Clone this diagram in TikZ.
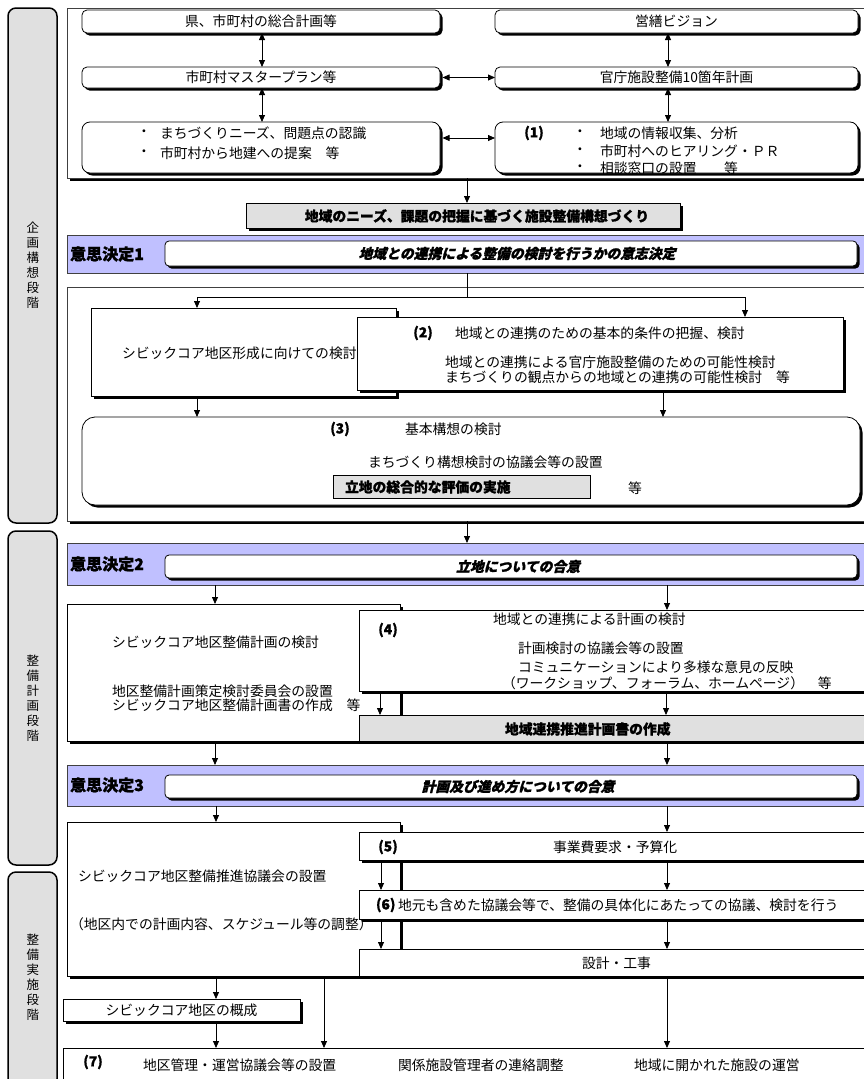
\documentclass[tikz,border=0pt]{standalone}
\usepackage{fontspec}
\setmainfont[BoldFeatures={FakeBold=1.2}]{Noto Sans CJK JP}
\newfontfamily\bslant[FakeSlant=0.25, BoldFeatures={FakeBold=1.5}]{Noto Sans CJK JP}
\usetikzlibrary{arrows.meta,shadows}
\definecolor{bandc}{RGB}{192,192,255}
\definecolor{lgray}{RGB}{224,224,224}
\begin{document}
\begin{tikzpicture}[x=1pt,y=-1pt,
  txt/.style={font=\fontsize{13.8}{16}\selectfont, inner sep=0pt, outer sep=0pt},
  btxt/.style={font=\fontsize{13.8}{16}\selectfont\bfseries, inner sep=0pt, outer sep=0pt},
  shd/.style={drop shadow={shadow xshift=2.5pt, shadow yshift=-2.5pt, opacity=1, fill=black}},
  sbox/.style={draw, line width=0.8pt, fill=white, inner sep=0pt, outer sep=0pt, anchor=north west, shd, font=\fontsize{13.8}{16}\selectfont},
  rbox/.style={sbox, rounded corners=5pt},
  gbox/.style={sbox, fill=lgray, font=\fontsize{13.8}{16}\selectfont\bfseries},
  frame/.style={draw=black!75, line width=0.8pt, fill=white, inner sep=0pt, outer sep=0pt, anchor=north west, shd},
  band/.style={draw=black!75, line width=0.8pt, fill=bandc, inner sep=0pt, outer sep=0pt, anchor=north west},
  inband/.style={rbox, rounded corners=4pt, font=\fontsize{13.8}{16}\selectfont\bslant\bfseries},
  phase/.style={draw, line width=1.5pt, fill=lgray, rounded corners=8pt, inner sep=0pt, outer sep=0pt, anchor=north west},
  vlab/.style={align=center, font=\fontsize{12.5}{15}\selectfont, inner sep=0pt},
  blab/.style={anchor=west, font=\fontsize{16}{18}\selectfont\bfseries, inner sep=0pt},
  arr/.style={-{Triangle[length=7pt,width=6pt]}, line width=0.8pt},
  darr/.style={{Triangle[length=7pt,width=6pt]}-{Triangle[length=7pt,width=6pt]}, line width=0.8pt}
]
\useasboundingbox (0,0) rectangle (864,1079);
\clip (0,0) rectangle (864,1079);
\foreach \v in {138,197,215,216,262,324,380,381,467,663,666,667,668,745} {\coordinate (c\v) at (\v,\v);}

% phase boxes
\node[phase, minimum width=49pt, minimum height=515pt] (P1) at (8,8) {};
\node[phase, minimum width=49pt, minimum height=334pt] (P2) at (8,531) {};
\node[phase, minimum width=49pt, minimum height=215pt] (P3) at (8,872) {};
\node[vlab] (P1l) at (33,265) {企\\画\\構\\想\\段\\階};
\node[vlab] (P2l) at (33,698) {整\\備\\計\\画\\段\\階};
\node[vlab] (P3l) at (33,977) {整\\備\\実\\施\\段\\階};

% section 1
\node[frame, minimum width=840pt, minimum height=170pt] (F1) at (67,8) {};
\node[rbox, minimum width=358pt, minimum height=23pt] (A1) at (82,10) {県、市町村の総合計画等};
\node[rbox, minimum width=363pt, minimum height=23pt] (B1) at (495,10) {営繕ビジョン};
\node[rbox, minimum width=358pt, minimum height=21pt] (A2) at (82,67) {市町村マスタープラン等};
\node[rbox, minimum width=363pt, minimum height=21pt] (B2) at (495,67) {官庁施設整備10箇年計画};
\node[rbox, rounded corners=8pt, minimum width=358pt, minimum height=51pt] (A3) at (82,122) {};
\node[rbox, rounded corners=8pt, minimum width=363pt, minimum height=51pt] (B3) at (495,122) {};
\node[txt] (a3b1) at (144,133) {・};
\node[txt, anchor=west] (a3t1) at (160,133) {まちづくりニーズ、問題点の認識};
\node[txt] (a3b2) at (144,153) {・};
\node[txt, anchor=west] (a3t2) at (160,153) {市町村から地建への提案　等};
\node[btxt] (b3n) at (534,133) {(1)};
\node[txt] (b3b1) at (580,133) {・};
\node[txt, anchor=west] (b3t1) at (600,133) {地域の情報収集、分析};
\node[txt] (b3b2) at (580,151) {・};
\node[txt, anchor=west] (b3t2) at (600,151) {市町村へのヒアリング・ＰＲ};
\node[txt] (b3b3) at (580,168) {・};
\node[txt, anchor=west] (b3t3) at (600,168) {相談窓口の設置　　等};
\draw[darr] (A1.south -| c262) -- (A2.north -| c262);
\draw[darr] (A2.south -| c262) -- (A3.north -| c262);
\draw[darr] (B1.south -| c668) -- (B2.north -| c668);
\draw[darr] (B2.south -| c668) -- (B3.north -| c668);
\draw[darr] ([xshift=2.5pt]A2.east) -- (B2.west);
\draw[darr] ([xshift=2.5pt]A3.east |- c138) -- (B3.west |- c138);

% needs box
\node[gbox, minimum width=434pt, minimum height=25pt] (Need) at (246,203) {};
\node[btxt] (Needt) at (477,216) {地域のニーズ、課題の把握に基づく施設整備構想づくり};
\draw[arr] (F1.south -| c467) -- (Need.north -| c467);

% band 1
\node[band, minimum width=840pt, minimum height=38pt] (Band1) at (67,235) {};
\node[blab] (Band1l) at (70,254) {意思決定1};
\node[inband, minimum width=692pt, minimum height=25pt] (I1) at (165,241) {\hspace*{12pt}地域との連携による整備の検討を行うかの意志決定};

% section 2
\node[frame, minimum width=840pt, minimum height=234pt] (F2) at (67,287) {};
\node[sbox, minimum width=305pt, minimum height=88pt] (L2) at (91,308) {};
\node[txt, anchor=west] (L2t) at (122,353) {シビックコア地区形成に向けての検討};
\node[sbox, minimum width=486pt, minimum height=73pt] (Q2) at (357,317) {};
\node[btxt] (Q2n) at (423,333) {(2)};
\node[txt, anchor=west] (Q2t1) at (455,333) {地域との連携のための基本的条件の把握、検討};
\node[txt, anchor=west] (Q2t2) at (445,362) {地域との連携による官庁施設整備のための可能性検討};
\node[txt, anchor=west] (Q2t3) at (445,377) {まちづくりの観点からの地域との連携の可能性検討　等};
\coordinate (s1) at (467,297);
\draw[line width=0.8pt] (Band1.south -| s1) -- (s1);
\draw[line width=0.8pt] (c197 |- s1) -- (c745 |- s1);
\draw[arr] (c197 |- s1) -- (L2.north -| c197);
\draw[arr] (c745 |- s1) -- (Q2.north -| c745);
\node[rbox, rounded corners=13pt, minimum width=778pt, minimum height=88pt] (Q3) at (82,417) {};
\node[btxt] (Q3n) at (340,429) {(3)};
\node[txt, anchor=west] (Q3t1) at (405,429) {基本構想の検討};
\node[txt, anchor=west] (Q3t2) at (368,462) {まちづくり構想検討の協議会等の設置};
\node[draw, line width=0.8pt, fill=lgray, inner sep=0pt, outer sep=0pt, anchor=north west, minimum width=257pt, minimum height=23pt] (G3) at (333,475) {};
\node[btxt, anchor=west] (G3t) at (345,487) {立地の総合的な評価の実施};
\node[txt] (Q3t3) at (635,488) {等};
\draw[arr] (L2.south -| c197) -- (Q3.north -| c197);
\draw[arr] (Q2.south -| c663) -- (Q3.north -| c663);

% band 2
\node[band, minimum width=840pt, minimum height=42pt] (Band2) at (67,543) {};
\node[blab] (Band2l) at (70,564) {意思決定2};
\node[inband, minimum width=692pt, minimum height=23pt] (I2) at (165,555) {\hspace*{14pt}立地についての合意};
\draw[arr] (F2.south -| c467) -- (Band2.north -| c467);

% section 3
\node[sbox, minimum width=333pt, minimum height=137pt] (L3) at (67,604) {};
\node[txt, anchor=west] (L3t1) at (112,642) {シビックコア地区整備計画の検討};
\node[txt, anchor=west] (L3t2) at (112,691) {地区整備計画策定検討委員会の設置};
\node[txt, anchor=west] (L3t3) at (112,705) {シビックコア地区整備計画書の作成　等};
\node[sbox, minimum width=545pt, minimum height=81pt] (Q4) at (359,610) {};
\node[btxt] (Q4n) at (388,630) {(4)};
\node[txt, anchor=west] (Q4t1) at (493,619) {地域との連携による計画の検討};
\node[txt, anchor=west] (Q4t2) at (518,648) {計画検討の協議会等の設置};
\node[txt, anchor=west] (Q4t3) at (518,667) {コミュニケーションにより多様な意見の反映};
\node[txt, anchor=west] (Q4t4) at (502,683) {（ワークショップ、フォーラム、ホームページ）　等};
\node[gbox, minimum width=545pt, minimum height=26pt] (G4) at (359,715) {};
\node[btxt, anchor=west] (G4t) at (505,729) {地域連携推進計画書の作成};
\draw[arr] (Band2.south -| c215) -- (L3.north -| c215);
\draw[arr] (Band2.south -| c667) -- (Q4.north -| c667);
\draw[arr] (Q4.south -| c380) -- (G4.north -| c380);
\draw[arr] (Q4.south -| c666) -- (G4.north -| c666);

% band 3
\node[band, minimum width=840pt, minimum height=41pt] (Band3) at (67,765) {};
\node[blab] (Band3l) at (70,785) {意思決定3};
\node[inband, minimum width=692pt, minimum height=23pt] (I3) at (165,775) {\hspace*{14pt}計画及び進め方についての合意};
\draw[arr] (L3.south -| c215) -- (Band3.north -| c215);
\draw[arr] (G4.south -| c667) -- (Band3.north -| c667);

% section 4
\node[sbox, minimum width=333pt, minimum height=154pt] (L4) at (67,822) {};
\node[txt, anchor=west] (L4t1) at (78,876) {シビックコア地区整備推進協議会の設置};
\node[txt, anchor=west] (L4t2) at (70,924) {（地区内での計画内容、スケジュール等の調整）};
\node[sbox, minimum width=545pt, minimum height=28pt] (Q5) at (359,832) {};
\node[btxt] (Q5n) at (388,847) {(5)};
\node[txt, anchor=west] (Q5t) at (553,847) {事業費要求・予算化};
\node[sbox, minimum width=545pt, minimum height=29pt] (Q6) at (359,890) {};
\node[btxt, anchor=west] (Q6n) at (376,905) {(6)};
\node[txt, anchor=west] (Q6t) at (398,905) {地元も含めた協議会等で、整備の具体化にあたっての協議、検討を行う};
\node[sbox, minimum width=545pt, minimum height=27pt] (Q7) at (359,949) {};
\node[txt, anchor=west] (Q7t) at (582,963) {設計・工事};
\draw[arr] (Band3.south -| c216) -- (L4.north -| c216);
\draw[arr] (Band3.south -| c667) -- (Q5.north -| c667);
\draw[arr] (Q5.south -| c381) -- (Q6.north -| c381);
\draw[arr] (Q5.south -| c667) -- (Q6.north -| c667);
\draw[arr] (Q6.south -| c381) -- (Q7.north -| c381);
\draw[arr] (Q6.south -| c667) -- (Q7.north -| c667);

% bottom
\node[sbox, minimum width=237pt, minimum height=22pt] (Gai) at (63,999) {シビックコア地区の概成};
\node[sbox, minimum width=845pt, minimum height=60pt] (Bot) at (63,1048) {};
\node[btxt] (Botn) at (93,1062) {(7)};
\node[txt, anchor=west] (Bott1) at (143,1065) {地区管理・運営協議会等の設置};
\node[txt, anchor=west] (Bott2) at (398,1065) {関係施設管理者の連絡調整};
\node[txt, anchor=west] (Bott3) at (634,1065) {地域に開かれた施設の運営};
\draw[arr] (L4.south -| c216) -- (Gai.north -| c216);
\draw[arr] (L4.south -| c324) -- (Bot.north -| c324);
\draw[arr] (Q7.south -| c667) -- (Bot.north -| c667);
\draw[arr] (Gai.south -| c216) -- (Bot.north -| c216);
\end{tikzpicture}
\end{document}
